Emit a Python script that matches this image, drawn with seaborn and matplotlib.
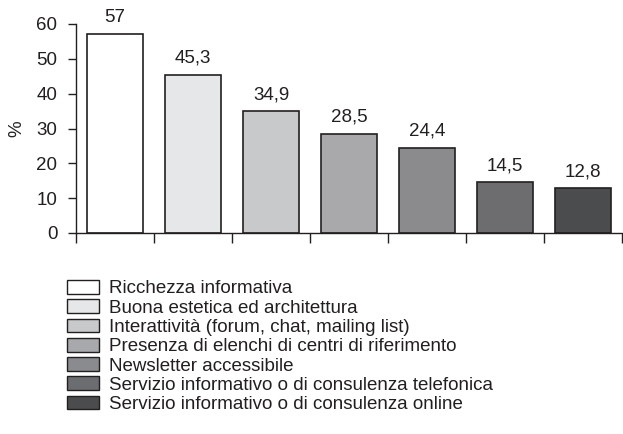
import matplotlib
matplotlib.use("Agg")
import pandas as pd
import seaborn as sns
import matplotlib.pyplot as plt
from matplotlib.patches import Patch

categories = [
    "Ricchezza informativa",
    "Buona estetica ed architettura",
    "Interattività (forum, chat, mailing list)",
    "Presenza di elenchi di centri di riferimento",
    "Newsletter accessibile",
    "Servizio informativo o di consulenza telefonica",
    "Servizio informativo o di consulenza online",
]
values = [57, 45.3, 34.9, 28.5, 24.4, 14.5, 12.8]
value_labels = ["57", "45,3", "34,9", "28,5", "24,4", "14,5", "12,8"]
colors = ["#ffffff", "#e6e7e8", "#c8c9cb", "#a8a9ac", "#8a8b8e", "#6c6d70", "#4b4c4e"]
yticks = [0, 10, 20, 30, 40, 50, 60]

edge = "#231f20"
fs = 13.5

sns.set_style("white")
plt.rcParams["font.family"] = ["Liberation Sans", "DejaVu Sans"]
plt.rcParams["text.color"] = edge
plt.rcParams["xtick.color"] = edge
plt.rcParams["ytick.color"] = edge

df = pd.DataFrame({"cat": categories, "val": values})

fig = plt.figure(figsize=(6.23, 4.34), dpi=100)
ax = fig.add_axes([76 / 623, 1 - 233 / 434, 546 / 623, 209 / 434])

sns.barplot(data=df, x="cat", y="val", hue="cat", palette=colors,
            order=categories, hue_order=categories, dodge=False,
            width=0.73, edgecolor=edge, linewidth=1.2, legend=False, ax=ax)

# value labels above bars
for i, (v, lab) in enumerate(zip(values, value_labels)):
    ax.annotate(lab, (i, v), xytext=(0, 6), textcoords="offset points",
                ha="center", va="bottom", fontsize=fs, annotation_clip=False)

ax.set_xlim(-0.5, len(categories) - 0.5)
ax.set_ylim(0, 60)
ax.set_yticks(yticks)
ax.set_xticks([i - 0.5 for i in range(len(categories) + 1)])
ax.set_xticklabels([])
ax.tick_params(axis="x", direction="out", length=7, width=1, bottom=True)
ax.tick_params(axis="y", direction="out", length=5.5, width=1, left=True,
               labelsize=fs, pad=8)
ax.set_xlabel("")
ax.set_ylabel("%", fontsize=fs, labelpad=8)

for side in ["top", "right"]:
    ax.spines[side].set_visible(False)
for side in ["left", "bottom"]:
    ax.spines[side].set_color(edge)
    ax.spines[side].set_linewidth(1)

handles = [Patch(facecolor=c, edgecolor=edge, linewidth=1) for c in colors]
fig.legend(handles, categories, loc="upper left",
           bbox_to_anchor=(67 / 623, 1 - 280 / 434), frameon=False,
           fontsize=fs, handlelength=1.7, handleheight=0.75,
           handletextpad=0.55, labelspacing=0.1, borderaxespad=0,
           borderpad=0)

fig.savefig("out.png", dpi=100)
